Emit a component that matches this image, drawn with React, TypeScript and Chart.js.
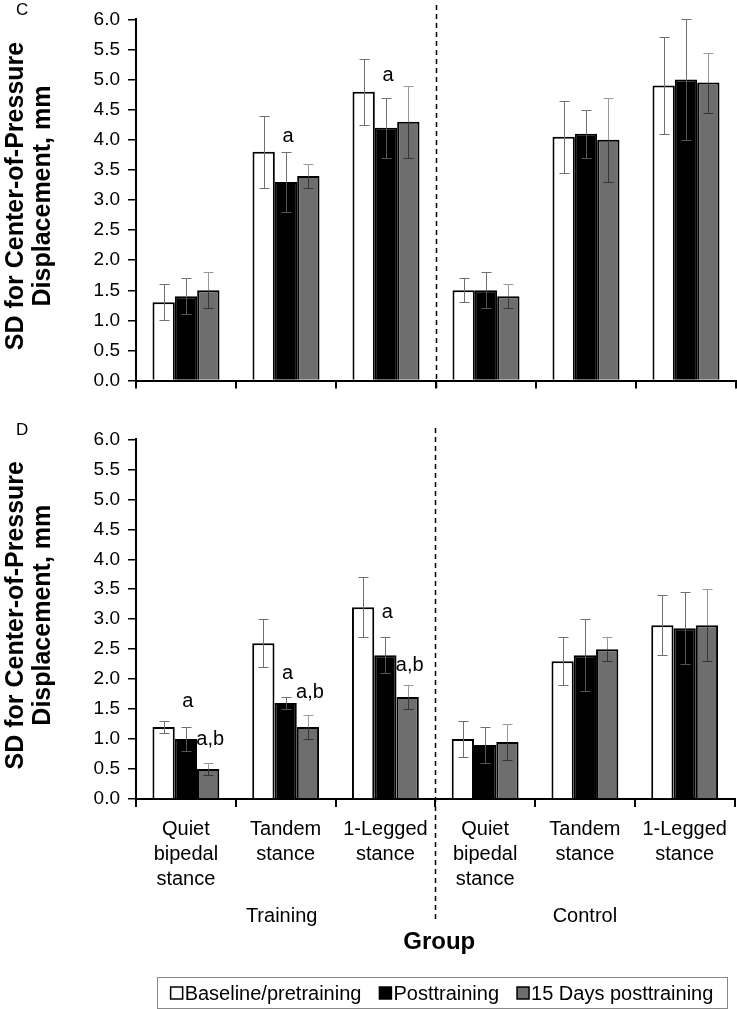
import React, { useEffect, useRef } from "react";
import { Chart, registerables } from "chart.js";

Chart.register(...registerables);

// ---------- data ----------
const categoryLabels: string[][] = [
  ["Quiet", "bipedal", "stance"],
  ["Tandem", "stance"],
  ["1-Legged", "stance"],
  ["Quiet", "bipedal", "stance"],
  ["Tandem", "stance"],
  ["1-Legged", "stance"],
];
const groupLabels = ["Training", "Control"];
const seriesNames = ["Baseline/pretraining", "Posttraining", "15 Days posttraining"];
const yAxisTitle = ["SD for Center-of-Pressure", "Displacement, mm"];
const xAxisTitle = "Group";
const yMin = 0;
const yMax = 6;
const yStep = 0.5;

// Panel C
const cBaseline = [1.3, 3.8, 4.8, 1.5, 4.05, 4.9];
const cBaselineSD = [0.3, 0.6, 0.55, 0.2, 0.6, 0.8];
const cPost = [1.4, 3.3, 4.2, 1.5, 4.1, 5.0];
const cPostSD = [0.3, 0.5, 0.5, 0.3, 0.4, 1.0];
const c15Days = [1.5, 3.4, 4.3, 1.4, 4.0, 4.95];
const c15DaysSD = [0.3, 0.2, 0.6, 0.2, 0.7, 0.5];
// [category, series, y value, text]
const cNotes: [number, number, number, string][] = [
  [1, 1, 4.05, "a"],
  [2, 1, 5.07, "a"],
];

// Panel D
const dBaseline = [1.2, 2.6, 3.2, 1.0, 2.3, 2.9];
const dBaselineSD = [0.1, 0.4, 0.5, 0.3, 0.4, 0.5];
const dPost = [1.0, 1.6, 2.4, 0.9, 2.4, 2.85];
const dPostSD = [0.2, 0.1, 0.3, 0.3, 0.6, 0.6];
const d15Days = [0.5, 1.2, 1.7, 0.95, 2.5, 2.9];
const d15DaysSD = [0.1, 0.2, 0.2, 0.3, 0.2, 0.6];
const dNotes: [number, number, number, string][] = [
  [0, 1, 1.63, "a"],
  [0, 2, 1.0, "a,b"],
  [1, 1, 2.09, "a"],
  [1, 2, 1.77, "a,b"],
  [2, 1, 3.11, "a"],
  [2, 2, 2.22, "a,b"],
];

// ---------- styles ----------
const FONT = '"Liberation Sans", Arial, Helvetica, sans-serif';
const barFill = ["#ffffff", "#000000", "#6e6e6e"];
const errAbove = ["#707070", "#707070", "#9a9a9a"];
const errInside = ["#707070", "#555555", "#353535"];

type PanelSpec = {
  letter: string;
  values: number[][];
  errors: number[][];
  notes: [number, number, number, string][];
  bottom: boolean;
  height: number;
  dashTop: number;
  dashBottom: number;
};

function makePlugin(spec: PanelSpec) {
  return {
    id: "panelDecor",
    afterDatasetsDraw(chart: any) {
      const ctx: CanvasRenderingContext2D = chart.ctx;
      const ys = chart.scales.y;
      const xs = chart.scales.x;
      ctx.save();
      // error bars
      spec.values.forEach((vals, di) => {
        const meta = chart.getDatasetMeta(di);
        vals.forEach((v, i) => {
          const e = spec.errors[di][i];
          const el = meta.data[i];
          const x = Math.round(el.x) + 0.5;
          const yHi = Math.round(ys.getPixelForValue(v + e)) + 0.5;
          const yV = ys.getPixelForValue(v);
          const yLo = Math.round(ys.getPixelForValue(v - e)) + 0.5;
          ctx.lineWidth = 1;
          ctx.strokeStyle = errAbove[di];
          ctx.beginPath();
          ctx.moveTo(x, yHi);
          ctx.lineTo(x, yV);
          ctx.moveTo(x - 5, yHi);
          ctx.lineTo(x + 5, yHi);
          ctx.stroke();
          ctx.strokeStyle = errInside[di];
          ctx.beginPath();
          ctx.moveTo(x, yV);
          ctx.lineTo(x, yLo);
          ctx.moveTo(x - 5, yLo);
          ctx.lineTo(x + 5, yLo);
          ctx.stroke();
        });
      });
      // annotations
      ctx.fillStyle = "#000";
      ctx.font = `20px ${FONT}`;
      ctx.textAlign = "center";
      ctx.textBaseline = "middle";
      spec.notes.forEach(([cat, ser, val, text]) => {
        const el = chart.getDatasetMeta(ser).data[cat];
        ctx.fillText(text, el.x + 2, ys.getPixelForValue(val));
      });
      // dashed separator
      const xd = Math.round((xs.getPixelForValue(2) + xs.getPixelForValue(3)) / 2) + 0.5;
      ctx.strokeStyle = "#000";
      ctx.lineWidth = 1.5;
      ctx.setLineDash([5, 4]);
      ctx.beginPath();
      ctx.moveTo(xd, spec.dashTop);
      ctx.lineTo(xd, spec.dashBottom);
      ctx.stroke();
      ctx.setLineDash([]);
      ctx.restore();
    },
    afterDraw(chart: any) {
      const ctx: CanvasRenderingContext2D = chart.ctx;
      const area = chart.chartArea;
      const xs = chart.scales.x;
      ctx.save();
      ctx.fillStyle = "#000";
      // panel letter
      ctx.font = `17px ${FONT}`;
      ctx.textAlign = "left";
      ctx.textBaseline = "middle";
      ctx.fillText(spec.letter, 16, 10);
      // y axis title
      const cy = (area.top + area.bottom) / 2 - 4;
      ctx.font = `bold 25px ${FONT}`;
      ctx.textAlign = "center";
      ctx.textBaseline = "middle";
      [16, 43].forEach((x, k) => {
        ctx.save();
        ctx.translate(x, cy);
        ctx.rotate(-Math.PI / 2);
        ctx.fillText(yAxisTitle[k], 0, 0);
        ctx.restore();
      });
      if (spec.bottom) {
        // group labels
        ctx.font = `20px ${FONT}`;
        ctx.fillText(groupLabels[0], xs.getPixelForValue(1) - 4, 496);
        ctx.fillText(groupLabels[1], xs.getPixelForValue(4), 496);
        // x title
        ctx.font = `bold 24px ${FONT}`;
        ctx.fillText(xAxisTitle, (area.left + area.right) / 2 + 4, 522);
        // legend
        const boxL = 157, boxR = 727, boxT = 557.5, boxB = 588.5;
        ctx.strokeStyle = "#888";
        ctx.lineWidth = 1;
        ctx.strokeRect(boxL + 0.5, boxT, boxR - boxL, boxB - boxT);
        ctx.font = `20px ${FONT}`;
        ctx.textAlign = "left";
        const sq = 12, gapSq = 2, gapItem = 18;
        const widths = seriesNames.map((s) => ctx.measureText(s).width);
        const total = widths.reduce((a, b) => a + b, 0) + 3 * (sq + gapSq) + 2 * gapItem;
        let x = (boxL + boxR) / 2 - total / 2;
        const my = (boxT + boxB) / 2;
        seriesNames.forEach((s, i) => {
          ctx.fillStyle = barFill[i];
          ctx.fillRect(x, my - sq / 2, sq, sq);
          ctx.strokeStyle = "#000";
          ctx.lineWidth = 1.5;
          ctx.strokeRect(x, my - sq / 2, sq, sq);
          ctx.fillStyle = "#000";
          ctx.fillText(s, x + sq + gapSq, my + 1);
          x += sq + gapSq + widths[i] + gapItem;
        });
      }
      ctx.restore();
    },
  };
}

function Panel({ spec, top }: { spec: PanelSpec; top: number }) {
  const ref = useRef<HTMLCanvasElement | null>(null);
  useEffect(() => {
    if (!ref.current) return;
    const xAxisHeight = spec.bottom ? spec.height - 379 : spec.height - 386;
    const chart = new Chart(ref.current, {
      type: "bar",
      data: {
        labels: categoryLabels,
        datasets: spec.values.map((vals, i) => ({
          label: seriesNames[i],
          data: vals,
          backgroundColor: barFill[i],
          borderColor: "#000",
          borderWidth: 2,
          categoryPercentage: 0.67,
          barPercentage: 1.0,
        })),
      },
      options: {
        responsive: false,
        animation: false,
        layout: { padding: { top: 12, right: 1, left: 0, bottom: 0 } },
        plugins: {
          legend: { display: false },
          tooltip: { enabled: false },
        },
        scales: {
          x: {
            offset: true,
            grid: {
              offset: true,
              drawOnChartArea: false,
              drawTicks: true,
              tickLength: 8,
              color: "#000",
              lineWidth: 2,
            },
            border: { display: true, color: "#000", width: 2 },
            ticks: {
              display: spec.bottom,
              color: "#000",
              padding: 10,
              maxRotation: 0,
              autoSkip: false,
              font: { family: FONT, size: 20, lineHeight: 1.25 },
            },
            afterFit: (scale: any) => {
              scale.height = xAxisHeight;
            },
          },
          y: {
            min: yMin,
            max: yMax,
            grid: {
              drawOnChartArea: false,
              drawTicks: true,
              tickLength: 8,
              color: "#000",
              lineWidth: 1.5,
            },
            border: { display: true, color: "#000", width: 2 },
            ticks: {
              stepSize: yStep,
              color: "#000",
              padding: 8,
              font: { family: FONT, size: 19 },
              callback: (v: any) => Number(v).toFixed(1),
            },
            afterFit: (scale: any) => {
              scale.width = 136;
            },
          },
        },
      },
      plugins: [makePlugin(spec)],
    } as any);
    return () => chart.destroy();
  }, [spec]);
  return (
    <canvas
      ref={ref}
      width={737}
      height={spec.height}
      style={{ position: "absolute", left: 0, top, width: 737, height: spec.height, display: "block" }}
    />
  );
}

const specC: PanelSpec = {
  letter: "C",
  values: [cBaseline, cPost, c15Days],
  errors: [cBaselineSD, cPostSD, c15DaysSD],
  notes: cNotes,
  bottom: false,
  height: 400,
  dashTop: 5,
  dashBottom: 392,
};

const specD: PanelSpec = {
  letter: "D",
  values: [dBaseline, dPost, d15Days],
  errors: [dBaselineSD, dPostSD, d15DaysSD],
  notes: dNotes,
  bottom: true,
  height: 589,
  dashTop: 8,
  dashBottom: 502,
};

export default function App() {
  return (
    <div style={{ position: "absolute", left: 0, top: 0, width: 737, height: 1009, background: "#fff" }}>
      <Panel spec={specC} top={0} />
      <Panel spec={specD} top={420} />
    </div>
  );
}
